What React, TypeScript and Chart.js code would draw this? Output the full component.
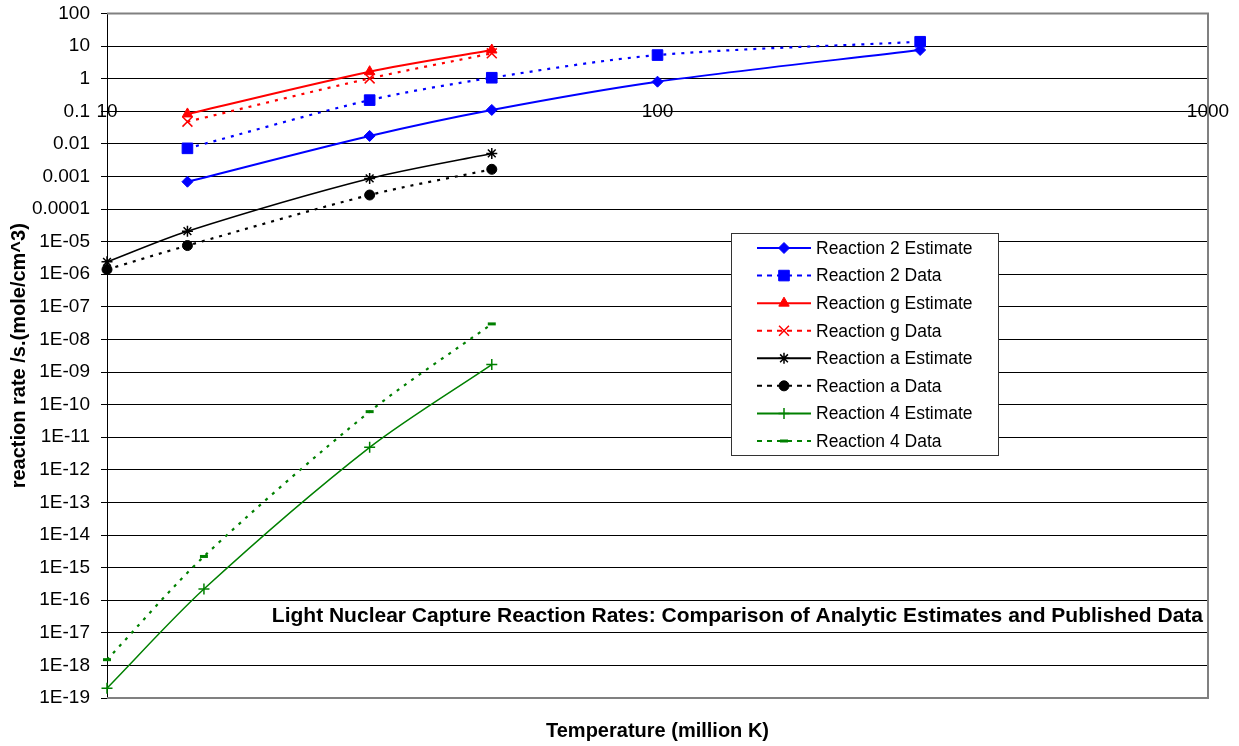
import React, { useEffect, useRef } from 'react';
import { Chart, registerables } from 'chart.js';
import { drawPoint } from 'chart.js/helpers';

Chart.register(...registerables);

const FONT = "'Liberation Sans', Arial, Helvetica, sans-serif";

// ---- data ----
const r2Temps = [14, 30, 50, 100, 300];
const r2Estimate = [6.9e-4, 0.0175, 0.11, 0.81, 7.6];
const r2Data = [0.0073, 0.22, 1.07, 5.3, 13.6];

const rgTemps = [14, 30, 50];
const rgEstimate = [0.083, 1.64, 7.6];
const rgData = [0.048, 1.02, 6.0];

const raTemps = [10, 14, 30, 50];
const raEstimate = [2.4e-6, 2.1e-5, 8.7e-4, 0.0051];
const raData = [1.4e-6, 7.6e-6, 2.7e-4, 0.00166];

const r4Temps = [10, 15, 30, 50];
const r4Estimate = [2.0e-19, 2.2e-16, 4.9e-12, 1.7e-9];
const r4Data = [1.5e-18, 2.2e-15, 6.1e-11, 3.0e-8];

const xTickValues = [10, 100, 1000];
const xTickLabels = ['10', '100', '1000'];

const yTickValues = [
  100, 10, 1, 0.1, 0.01, 0.001, 0.0001, 1e-5, 1e-6, 1e-7, 1e-8, 1e-9, 1e-10,
  1e-11, 1e-12, 1e-13, 1e-14, 1e-15, 1e-16, 1e-17, 1e-18, 1e-19,
];
const yTickLabels = [
  '100', '10', '1', '0.1', '0.01', '0.001', '0.0001', '1E-05', '1E-06', '1E-07',
  '1E-08', '1E-09', '1E-10', '1E-11', '1E-12', '1E-13', '1E-14', '1E-15',
  '1E-16', '1E-17', '1E-18', '1E-19',
];

const chartTitle =
  'Light Nuclear Capture Reaction Rates: Comparison of Analytic Estimates and Published Data';
const xTitle = 'Temperature (million K)';
const yTitle = 'reaction rate /s.(mole/cm^3)';

const BLUE = '#0000FF';
const RED = '#FF0000';
const BLACK = '#000000';
const GREEN = '#008000';
const DASH = [3, 6];

type SeriesDef = {
  label: string;
  temps: number[];
  values: number[];
  color: string;
  dashed: boolean;
  lineWidth: number;
  pointStyle: string;
  radius: number;
  filled: boolean;
  pointBorderWidth: number;
};

const series: SeriesDef[] = [
  { label: 'Reaction 2 Estimate', temps: r2Temps, values: r2Estimate, color: BLUE, dashed: false, lineWidth: 2, pointStyle: 'rectRot', radius: 5.5, filled: true, pointBorderWidth: 1 },
  { label: 'Reaction 2 Data', temps: r2Temps, values: r2Data, color: BLUE, dashed: true, lineWidth: 2.2, pointStyle: 'rect', radius: 7.5, filled: true, pointBorderWidth: 1 },
  { label: 'Reaction g Estimate', temps: rgTemps, values: rgEstimate, color: RED, dashed: false, lineWidth: 2, pointStyle: 'triangle', radius: 6, filled: true, pointBorderWidth: 1 },
  { label: 'Reaction g Data', temps: rgTemps, values: rgData, color: RED, dashed: true, lineWidth: 2.2, pointStyle: 'crossRot', radius: 7, filled: false, pointBorderWidth: 1.5 },
  { label: 'Reaction a Estimate', temps: raTemps, values: raEstimate, color: BLACK, dashed: false, lineWidth: 1.5, pointStyle: 'star', radius: 5.5, filled: false, pointBorderWidth: 1.5 },
  { label: 'Reaction a Data', temps: raTemps, values: raData, color: BLACK, dashed: true, lineWidth: 2.2, pointStyle: 'circle', radius: 5, filled: true, pointBorderWidth: 1 },
  { label: 'Reaction 4 Estimate', temps: r4Temps, values: r4Estimate, color: GREEN, dashed: false, lineWidth: 1.5, pointStyle: 'cross', radius: 5.5, filled: false, pointBorderWidth: 1.5 },
  { label: 'Reaction 4 Data', temps: r4Temps, values: r4Data, color: GREEN, dashed: true, lineWidth: 2.2, pointStyle: 'line', radius: 4, filled: false, pointBorderWidth: 3 },
];

const overlayPlugin = {
  id: 'excelOverlay',
  beforeDatasetsDraw(chart: any) {
    const { ctx, chartArea } = chart;
    const { left, right, top, bottom } = chartArea;
    ctx.save();
    ctx.strokeStyle = '#808080';
    ctx.lineWidth = 2;
    ctx.beginPath();
    ctx.moveTo(left, top);
    ctx.lineTo(right, top);
    ctx.lineTo(right, bottom);
    ctx.lineTo(left, bottom);
    ctx.stroke();
    ctx.restore();
  },
  afterDraw(chart: any) {
    const { ctx, chartArea } = chart;
    ctx.save();
    // chart title inside plot area
    ctx.font = `bold 21px ${FONT}`;
    ctx.fillStyle = '#000';
    ctx.textAlign = 'right';
    ctx.textBaseline = 'middle';
    ctx.fillText(chartTitle, chartArea.right - 5, 616);

    // legend box
    const bx = 731, by = 233, bw = 267, bh = 222;
    ctx.fillStyle = '#fff';
    ctx.fillRect(bx, by, bw, bh);
    ctx.strokeStyle = '#333';
    ctx.lineWidth = 1;
    ctx.strokeRect(bx + 0.5, by + 0.5, bw, bh);
    const rowStep = 27.57;
    series.forEach((s, i) => {
      const cy = by + 15 + i * rowStep;
      ctx.save();
      ctx.strokeStyle = s.color;
      ctx.lineWidth = 2;
      ctx.setLineDash(s.dashed ? [5, 5] : []);
      ctx.beginPath();
      ctx.moveTo(757, cy);
      ctx.lineTo(811, cy);
      ctx.stroke();
      ctx.setLineDash([]);
      ctx.fillStyle = s.color;
      ctx.strokeStyle = s.color;
      ctx.lineWidth = s.pointBorderWidth;
      drawPoint(ctx, { pointStyle: s.pointStyle as any, radius: s.radius, rotation: 0, borderWidth: s.pointBorderWidth } as any, 784, cy);
      ctx.restore();
      ctx.fillStyle = '#000';
      ctx.font = `17.5px ${FONT}`;
      ctx.textAlign = 'left';
      ctx.textBaseline = 'middle';
      ctx.fillText(s.label, 816, cy + 1);
    });
    ctx.restore();
  },
};

export default function App() {
  const ref = useRef<HTMLCanvasElement>(null);
  useEffect(() => {
    Chart.defaults.font.family = FONT;
    const datasets = series.map((s) => ({
      label: s.label,
      data: s.temps.map((t, i) => ({ x: t, y: s.values[i] })),
      xAxisID: 'x',
      yAxisID: 'y',
      borderColor: s.color,
      backgroundColor: s.filled ? s.color : 'rgba(0,0,0,0)',
      borderWidth: s.lineWidth,
      borderDash: s.dashed ? DASH : [],
      pointStyle: s.pointStyle as any,
      pointRadius: s.radius,
      pointBorderWidth: s.pointBorderWidth,
      pointBorderColor: s.color,
      pointBackgroundColor: s.filled ? s.color : 'rgba(0,0,0,0)',
      tension: 0.3,
      fill: false,
      clip: false as any,
    }));
    const chart = new Chart(ref.current!, {
      type: 'line',
      data: { datasets },
      options: {
        animation: false,
        responsive: false,
        layout: { padding: { left: 0, right: 31, top: 13.5, bottom: 0 } },
        plugins: {
          legend: { display: false },
          tooltip: { enabled: false },
          title: { display: false },
        },
        scales: {
          x: {
            type: 'logarithmic',
            min: 10,
            max: 1000,
            position: { y: 1 } as any,
            afterBuildTicks: (s: any) => {
              s.ticks = xTickValues.map((v) => ({ value: v }));
            },
            afterFit: (s: any) => {
              s.height = 0;
              s.paddingTop = 0;
              s.paddingBottom = 0;
              s.paddingLeft = 0;
              s.paddingRight = 0;
            },
            grid: { drawOnChartArea: false, drawTicks: true, tickLength: 5, color: '#000', lineWidth: 1 },
            border: { display: true, color: '#000', width: 1 },
            ticks: {
              autoSkip: false,
              maxRotation: 0,
              color: '#000',
              padding: 17,
              font: { size: 19, family: FONT },
              callback: (_v: any, i: number) => xTickLabels[i],
            },
          },
          x2: {
            type: 'linear',
            axis: 'x',
            position: 'bottom',
            min: 0,
            max: 1,
            ticks: { display: false },
            grid: { display: false },
            border: { display: false },
            title: {
              display: true,
              text: xTitle,
              color: '#000',
              font: { size: 20, weight: 'bold', family: FONT },
              padding: { top: 0, bottom: 3 },
            },
            afterFit: (s: any) => {
              s.height = 48;
              s.paddingLeft = 0;
              s.paddingRight = 0;
            },
          } as any,
          y: {
            type: 'logarithmic',
            position: 'left',
            min: 1e-19,
            max: 100,
            afterBuildTicks: (s: any) => {
              s.ticks = yTickValues.map((v) => ({ value: v }));
            },
            afterFit: (s: any) => {
              s.width = 107;
              s.paddingTop = 0;
              s.paddingBottom = 0;
            },
            grid: { color: '#000', lineWidth: 1, tickLength: 6, drawTicks: true },
            border: { display: true, color: '#000', width: 1 },
            ticks: {
              autoSkip: false,
              color: '#000',
              padding: 11,
              font: { size: 19, family: FONT },
              callback: (_v: any, i: number) => yTickLabels[i],
            },
            title: {
              display: true,
              text: yTitle,
              color: '#000',
              font: { size: 20, weight: 'bold', family: FONT },
              padding: { top: 7, bottom: 0 },
            },
          },
        },
      },
      plugins: [overlayPlugin],
    } as any);
    return () => chart.destroy();
  }, []);
  return (
    <div style={{ position: 'fixed', left: 0, top: 0, width: 1239, height: 746, background: '#fff' }}>
      <canvas ref={ref} width={1239} height={746} style={{ display: 'block' }} />
    </div>
  );
}
